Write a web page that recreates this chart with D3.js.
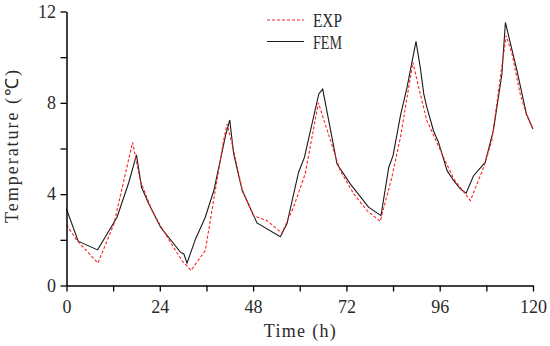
<!DOCTYPE html>
<html>
<head>
<meta charset="utf-8">
<script src="https://cdn.jsdelivr.net/npm/d3@7"></script>
<style>
  body { margin: 0; background: #fff; }
  text { font-family: "Liberation Serif", "Times New Roman", serif; }
</style>
</head>
<body>
<script>
// temperature vs time, measured (EXP) and simulated (FEM)
var expTime = [0, 2.7, 8.1, 12.2, 17, 19, 22, 25.4, 29.7, 32, 35.7, 40.4, 41.3, 42.6, 45.2, 48.1, 51.6, 55.4, 58.4, 61.4,
               64.8, 70.4, 73.9, 77.3, 80.7, 83.7, 85.9, 89.1, 91, 92.7, 96.6, 99.6, 103.9, 107.3, 109.4, 111.6, 113.1, 114.6, 116.7, 118.3, 120];
var expTemp = [2.65, 1.97, 0.98, 2.7, 6.27, 4.59, 3.28, 2.26, 1.09, 0.66, 1.53, 6.34, 7.07, 6.2, 4.2, 3.06, 2.84, 2.29, 3.43, 4.89,
               8.0, 5.03, 4.01, 3.28, 2.81, 4.74, 6.49, 9.77, 8.39, 7.22, 5.76, 4.67, 3.72, 5.18, 6.34, 9.11, 10.94, 10.14, 8.39, 7.51, 6.85];

var femTime = [0, 3, 8, 13, 16, 18, 19.3, 21.2, 24.2, 29.3, 30.2, 31, 33.2, 35.7, 37.9, 40.9, 42, 43, 45.2,
               49, 55, 56.7, 59.7, 61.2, 64.9, 65.9, 69.6, 73, 77.7, 80.9, 82.9, 84, 85.9, 87.6, 89.9, 91, 91.9, 92.7, 94.4,
               95.7, 97.9, 99.6, 101.3, 102.8, 104.7, 107.7, 109.8, 112, 112.9, 115.9, 118.3, 120];
var femTemp = [3.35, 1.94, 1.56, 2.99, 4.5, 5.72, 4.3, 3.57, 2.55, 1.46, 1.38, 0.98, 2.04, 2.99, 4.16, 6.56, 7.25, 5.76, 4.16,
               2.74, 2.14, 2.7, 4.96, 5.61, 8.39, 8.6, 5.32, 4.45, 3.43, 3.06, 5.18, 5.69, 7.44, 8.68, 10.69, 9.55, 8.39, 7.8, 6.78,
               6.27, 5.03, 4.59, 4.23, 4.04, 4.81, 5.39, 6.78, 9.26, 11.52, 9.4, 7.51, 6.85];

var xTicks = [0, 12, 24, 36, 48, 60, 72, 84, 96, 108, 120];
var yTicks = [0, 2, 4, 6, 8, 10, 12];
var seriesNames = ["EXP", "FEM"];

var width = 550,
    height = 346;

var svg = d3.select("body")
  .append("svg")
    .attr("width", width)
    .attr("height", height);

var x = d3.scaleLinear().domain([0, 120]).range([66.5, 533]);
var y = d3.scaleLinear().domain([0, 12]).range([285.5, 11.5]);

var line = d3.line()
    .x(function(d) { return x(d[0]); })
    .y(function(d) { return y(d[1]); });

var expData = d3.zip(expTime, expTemp),
    femData = d3.zip(femTime, femTemp);

svg.append("path")
    .datum(femData)
    .attr("fill", "none")
    .attr("stroke", "#1a1a1a")
    .attr("stroke-width", 1.1)
    .attr("d", line);

svg.append("path")
    .datum(expData)
    .attr("fill", "none")
    .attr("stroke", "#ff2020")
    .attr("stroke-width", 1.1)
    .attr("stroke-dasharray", "3,2")
    .attr("d", line);

// axes
var xAxis = svg.append("g")
    .attr("transform", "translate(0," + y(0) + ")")
    .call(d3.axisBottom(x)
      .tickValues(xTicks)
      .tickSize(6)
      .tickSizeOuter(0)
      .tickPadding(8.5)
      .tickFormat(function(d) { return d % 24 === 0 ? d : ""; }));

var yAxis = svg.append("g")
    .attr("transform", "translate(" + x(0) + ",0)")
    .call(d3.axisLeft(y)
      .tickValues(yTicks)
      .tickSize(6)
      .tickSizeOuter(0)
      .tickPadding(4.5)
      .tickFormat(function(d) { return d % 4 === 0 ? d : ""; }));

[xAxis, yAxis].forEach(function(a) {
  a.select(".domain").attr("stroke", "#000").attr("stroke-width", 1.5);
  a.selectAll(".tick line").attr("stroke", "#000").attr("stroke-width", 1.3);
  a.selectAll(".tick text")
    .attr("fill", "#2a2a2a")
    .style("font-size", "18px")
    .style("font-family", "'Liberation Serif', serif");
});

// axis titles
svg.append("text")
    .attr("x", (x(0) + x(120)) / 2)
    .attr("y", 337)
    .attr("text-anchor", "middle")
    .attr("fill", "#2a2a2a")
    .attr("font-size", "18px")
    .attr("textLength", 72)
    .attr("lengthAdjust", "spacing")
    .text("Time (h)");

svg.append("text")
    .attr("transform", "translate(18,146.5) rotate(-90)")
    .attr("text-anchor", "middle")
    .attr("fill", "#2a2a2a")
    .attr("font-size", "18px")
    .attr("textLength", 153)
    .attr("lengthAdjust", "spacing")
    .text("Temperature (℃)");

// legend
var legend = svg.append("g");
var legendY = [20, 41.5];

legend.selectAll("line")
  .data(seriesNames)
  .enter().append("line")
    .attr("x1", 267)
    .attr("x2", 304)
    .attr("y1", function(d, i) { return legendY[i]; })
    .attr("y2", function(d, i) { return legendY[i]; })
    .attr("stroke", function(d, i) { return i ? "#1a1a1a" : "#ff2020"; })
    .attr("stroke-width", 1.1)
    .attr("stroke-dasharray", function(d, i) { return i ? null : "3,2"; });

legend.selectAll("text")
  .data(seriesNames)
  .enter().append("text")
    .attr("x", 313)
    .attr("y", function(d, i) { return legendY[i] + 7; })
    .attr("fill", "#2a2a2a")
    .attr("font-size", "18px")
    .attr("textLength", 29)
    .attr("lengthAdjust", "spacingAndGlyphs")
    .text(function(d) { return d; });
</script>
</body>
</html>
